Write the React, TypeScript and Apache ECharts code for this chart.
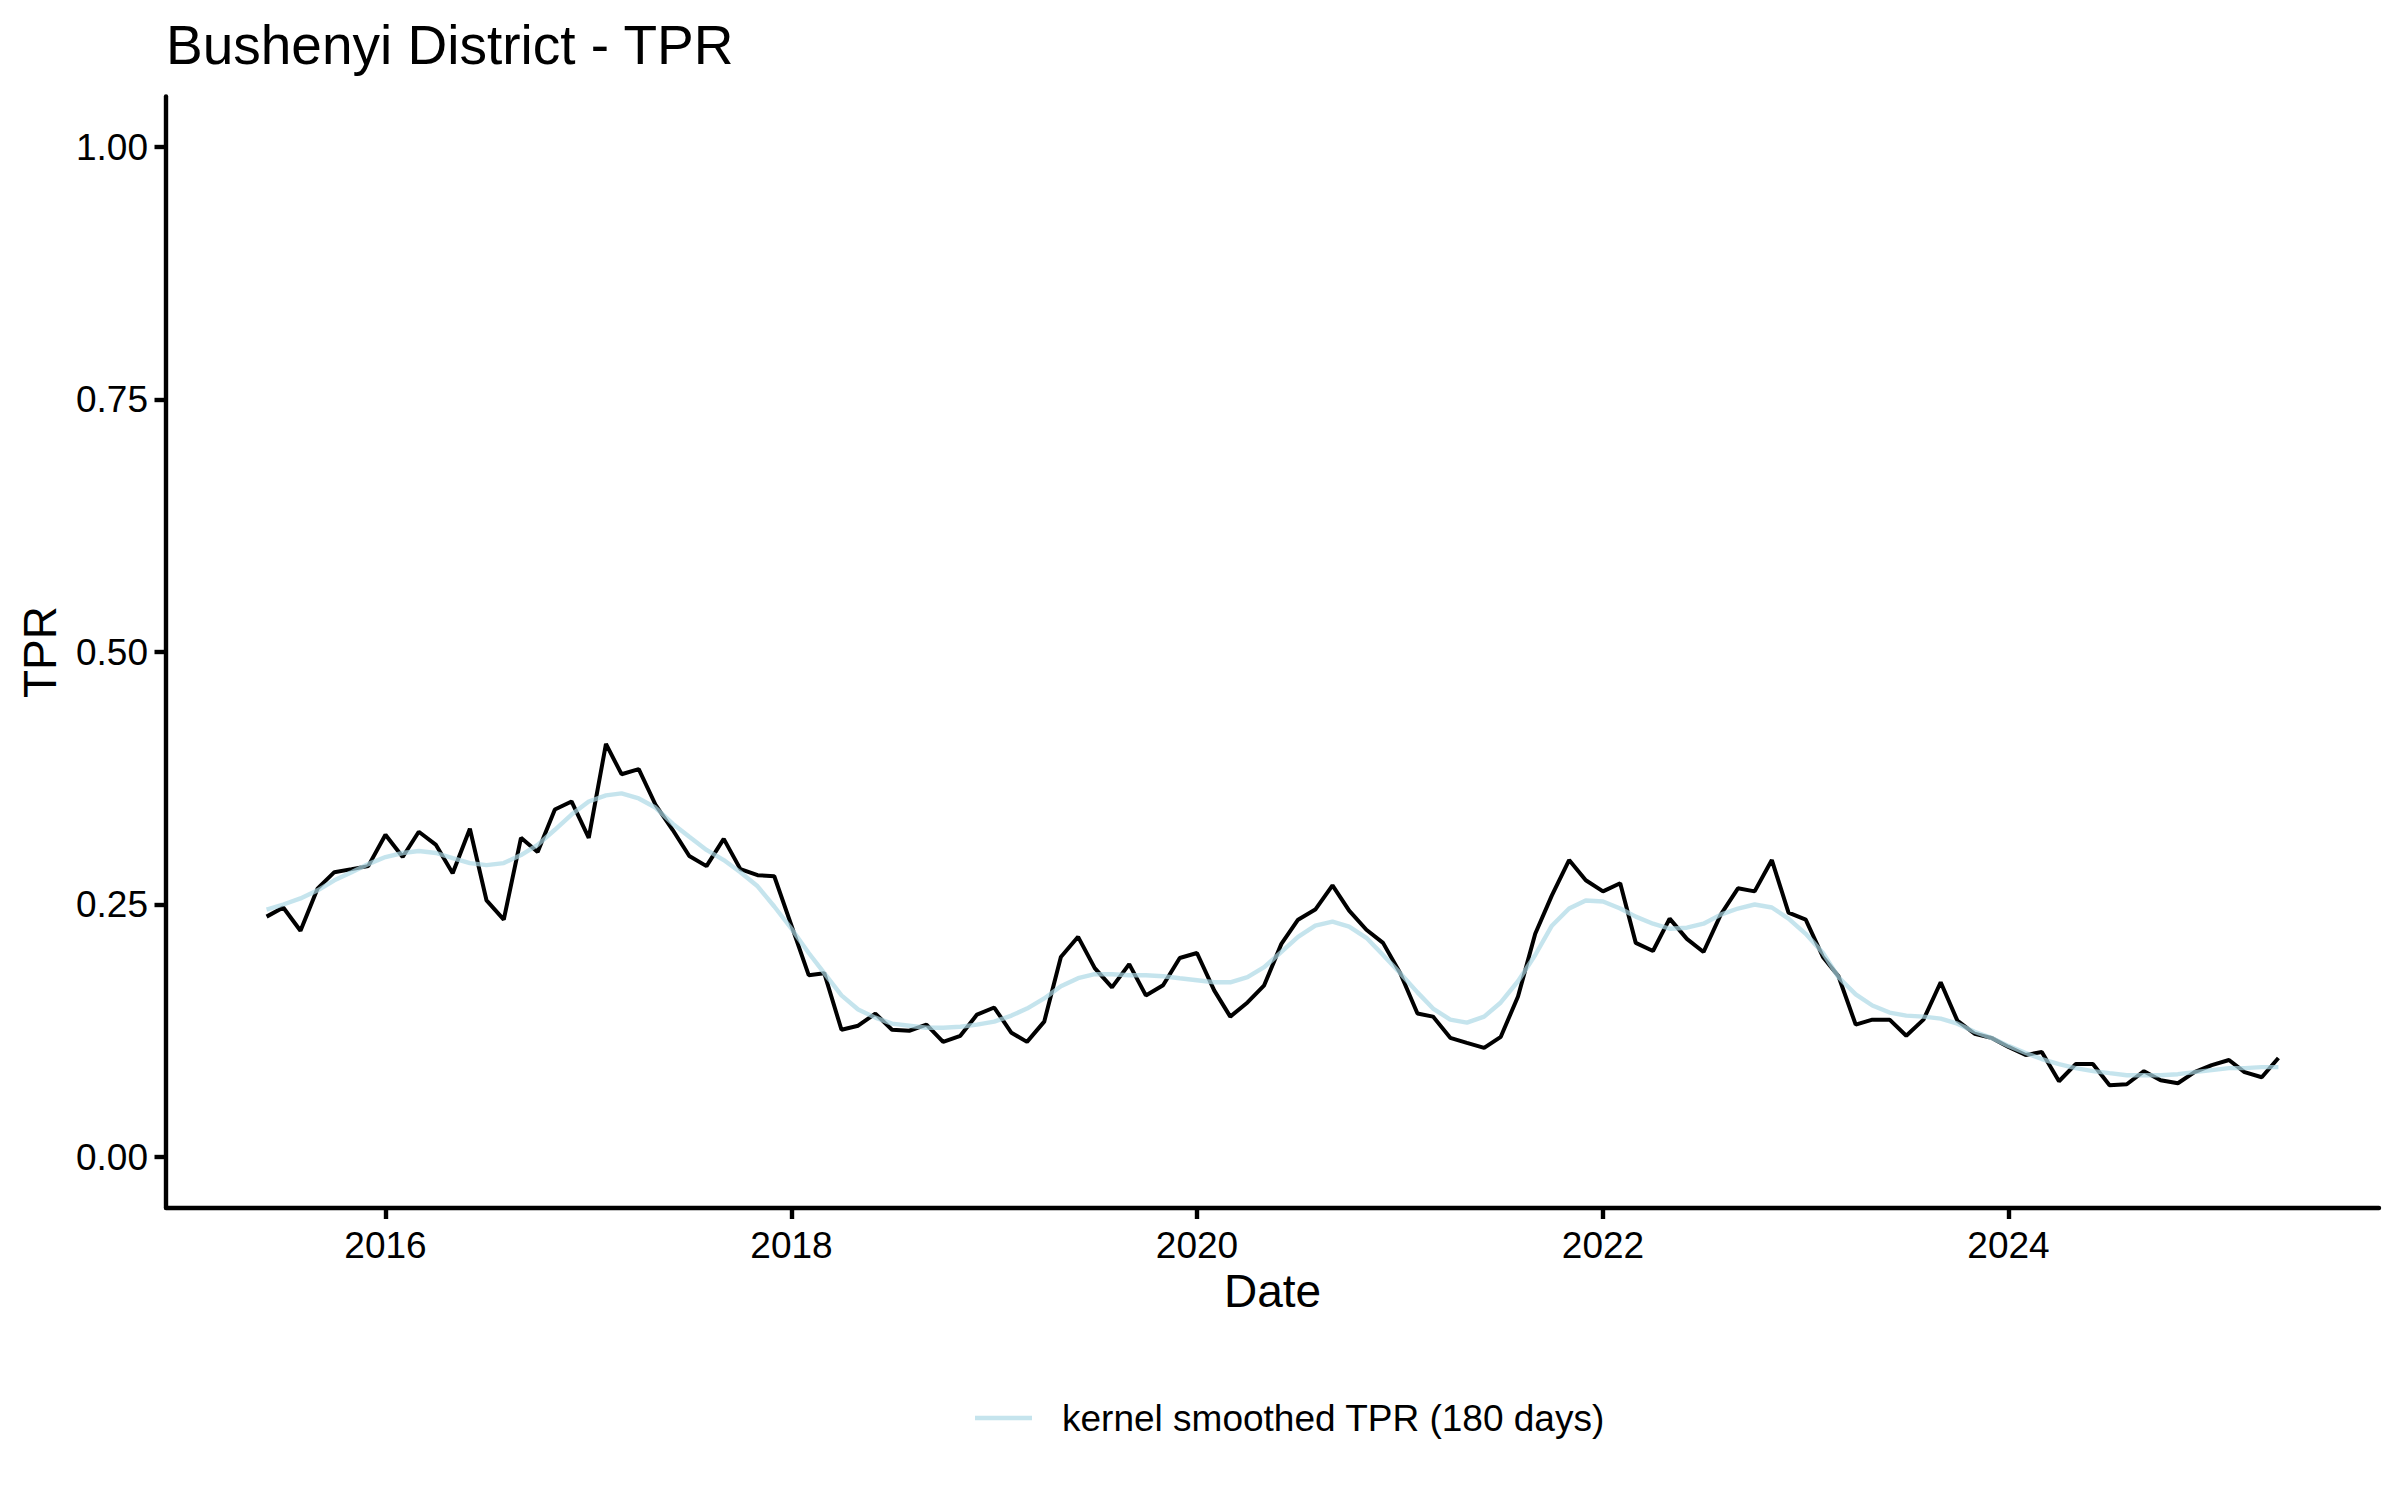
import React, { useEffect, useRef } from "react";
import * as echarts from "echarts";

// Months (first of each month), June 2015 – May 2025
const MONTHS: string[] = [
  "2015-06", "2015-07", "2015-08", "2015-09", "2015-10", "2015-11", "2015-12",
  "2016-01", "2016-02", "2016-03", "2016-04", "2016-05", "2016-06", "2016-07", "2016-08", "2016-09", "2016-10", "2016-11", "2016-12",
  "2017-01", "2017-02", "2017-03", "2017-04", "2017-05", "2017-06", "2017-07", "2017-08", "2017-09", "2017-10", "2017-11", "2017-12",
  "2018-01", "2018-02", "2018-03", "2018-04", "2018-05", "2018-06", "2018-07", "2018-08", "2018-09", "2018-10", "2018-11", "2018-12",
  "2019-01", "2019-02", "2019-03", "2019-04", "2019-05", "2019-06", "2019-07", "2019-08", "2019-09", "2019-10", "2019-11", "2019-12",
  "2020-01", "2020-02", "2020-03", "2020-04", "2020-05", "2020-06", "2020-07", "2020-08", "2020-09", "2020-10", "2020-11", "2020-12",
  "2021-01", "2021-02", "2021-03", "2021-04", "2021-05", "2021-06", "2021-07", "2021-08", "2021-09", "2021-10", "2021-11", "2021-12",
  "2022-01", "2022-02", "2022-03", "2022-04", "2022-05", "2022-06", "2022-07", "2022-08", "2022-09", "2022-10", "2022-11", "2022-12",
  "2023-01", "2023-02", "2023-03", "2023-04", "2023-05", "2023-06", "2023-07", "2023-08", "2023-09", "2023-10", "2023-11", "2023-12",
  "2024-01", "2024-02", "2024-03", "2024-04", "2024-05", "2024-06", "2024-07", "2024-08", "2024-09", "2024-10", "2024-11", "2024-12",
  "2025-01", "2025-02", "2025-03", "2025-04", "2025-05",
];

// Monthly TPR (black line)
const TPR: number[] = [
  0.238, 0.247, 0.224, 0.266, 0.282, 0.285, 0.288,
  0.319, 0.297, 0.322, 0.309, 0.281, 0.325, 0.254, 0.235, 0.316, 0.302, 0.344, 0.352,
  0.316, 0.409, 0.379, 0.384, 0.349, 0.324, 0.298, 0.288, 0.315, 0.285, 0.279, 0.278,
  0.229, 0.180, 0.182, 0.126, 0.130, 0.142, 0.126, 0.125, 0.131, 0.114, 0.120, 0.141,
  0.148, 0.123, 0.114, 0.134, 0.198, 0.218, 0.187, 0.168, 0.191, 0.160, 0.170, 0.197,
  0.202, 0.165, 0.139, 0.153, 0.170, 0.211, 0.235, 0.245, 0.269, 0.244, 0.225, 0.212,
  0.182, 0.142, 0.139, 0.118, 0.113, 0.108, 0.119, 0.159, 0.221, 0.259, 0.294, 0.274,
  0.263, 0.271, 0.212, 0.204, 0.236, 0.216, 0.203, 0.240, 0.266, 0.263, 0.294, 0.242,
  0.235, 0.198, 0.179, 0.131, 0.136, 0.136, 0.120, 0.136, 0.173, 0.135, 0.122, 0.118,
  0.109, 0.101, 0.104, 0.075, 0.092, 0.092, 0.071, 0.072, 0.085, 0.076, 0.073, 0.084,
  0.091, 0.096, 0.084, 0.079, 0.098,
];

// Kernel smoothed TPR (180 days) (light blue line)
const SMOOTH: number[] = [
  0.245, 0.250, 0.256, 0.264, 0.274, 0.282, 0.290,
  0.297, 0.301, 0.303, 0.301, 0.296, 0.291, 0.289, 0.291, 0.299, 0.309, 0.324, 0.339,
  0.352, 0.358, 0.360, 0.355, 0.346, 0.330, 0.317, 0.304, 0.294, 0.282, 0.268, 0.248,
  0.226, 0.202, 0.182, 0.160, 0.146, 0.138, 0.132, 0.130, 0.128, 0.128, 0.129, 0.131,
  0.134, 0.140, 0.147, 0.157, 0.169, 0.177, 0.181, 0.181, 0.180, 0.180, 0.179, 0.177,
  0.175, 0.173, 0.173, 0.178, 0.188, 0.203, 0.218, 0.229, 0.233, 0.228, 0.217, 0.200,
  0.182, 0.163, 0.147, 0.136, 0.133, 0.139, 0.153, 0.174, 0.200, 0.229, 0.246, 0.254,
  0.253, 0.246, 0.238, 0.231, 0.226, 0.227, 0.231, 0.240, 0.246, 0.250, 0.247, 0.236,
  0.221, 0.202, 0.178, 0.161, 0.150, 0.143, 0.140, 0.139, 0.137, 0.132, 0.124, 0.118,
  0.110, 0.103, 0.097, 0.092, 0.088, 0.085, 0.083, 0.081, 0.081, 0.081, 0.082, 0.084,
  0.086, 0.088, 0.088, 0.089, 0.089,
];

const X_TICK_YEARS: number[] = [2016, 2018, 2020, 2022, 2024];
const Y_TICKS: number[] = [0, 0.25, 0.5, 0.75, 1.0];

const TITLE = "Bushenyi District - TPR";
const SMOOTH_NAME = "kernel smoothed TPR (180 days)";
const FONT = "'Liberation Sans', Arial, Helvetica, sans-serif";

function monthToTs(m: string): number {
  const [y, mo] = m.split("-").map(Number);
  return Date.UTC(y, mo - 1, 1);
}

export default function App() {
  const ref = useRef<HTMLDivElement>(null);

  useEffect(() => {
    if (!ref.current) return;
    const chart = echarts.init(ref.current, null, { renderer: "svg" });

    const ts = MONTHS.map(monthToTs);
    const tprData = ts.map((t, i) => [t, TPR[i]]);
    const smoothData = ts.map((t, i) => [t, SMOOTH[i]]);
    const xTicks = X_TICK_YEARS.map((y) => Date.UTC(y, 0, 1));

    const span = ts[ts.length - 1] - ts[0];
    const xMin = ts[0] - span * 0.05;
    const xMax = ts[ts.length - 1] + span * 0.05;

    const option: any = {
      animation: false,
      backgroundColor: "#ffffff",
      textStyle: { fontFamily: FONT },
      title: {
        text: TITLE,
        left: 166,
        top: 17,
        padding: 0,
        textStyle: { fontFamily: FONT, fontSize: 55, fontWeight: "normal", color: "#000" },
      },
      grid: { left: 166, right: 21, top: 96.5, bottom: 292.5, containLabel: false },
      legend: {
        show: true,
        data: [{ name: SMOOTH_NAME, icon: "rect" }],
        left: 975,
        top: 1398,
        padding: 0,
        itemWidth: 57,
        itemHeight: 4.4,
        textStyle: {
          fontFamily: FONT,
          fontSize: 37,
          color: "#000",
          padding: [0, 0, 0, 25],
          lineHeight: 40,
        },
      },
      xAxis: {
        type: "value",
        min: xMin,
        max: xMax,
        splitLine: { show: false },
        axisLine: { show: true, onZero: false, lineStyle: { color: "#000", width: 4.4 } },
        axisTick: {
          show: true,
          length: 11.5,
          customValues: xTicks,
          lineStyle: { color: "#000", width: 4.4 },
        },
        axisLabel: {
          customValues: xTicks,
          formatter: (v: number) => String(new Date(v).getUTCFullYear()),
          fontFamily: FONT,
          fontSize: 37,
          color: "#000",
          margin: 19,
        },
        name: "Date",
        nameLocation: "middle",
        nameGap: 59,
        nameTextStyle: { fontFamily: FONT, fontSize: 46, color: "#000" },
      },
      yAxis: {
        type: "value",
        min: -0.05,
        max: 1.05,
        splitLine: { show: false },
        axisLine: { show: true, onZero: false, lineStyle: { color: "#000", width: 4.4 } },
        axisTick: {
          show: true,
          length: 11.5,
          customValues: Y_TICKS,
          lineStyle: { color: "#000", width: 4.4 },
        },
        axisLabel: {
          customValues: Y_TICKS,
          formatter: (v: number) => v.toFixed(2),
          fontFamily: FONT,
          fontSize: 37,
          color: "#000",
          margin: 18,
        },
        name: "TPR",
        nameLocation: "middle",
        nameGap: 103,
        nameRotate: 90,
        nameTextStyle: { fontFamily: FONT, fontSize: 46, color: "#000" },
      },
      series: [
        {
          name: "TPR",
          type: "line",
          data: tprData,
          showSymbol: false,
          symbol: "none",
          lineStyle: { color: "#000000", width: 4 },
          itemStyle: { color: "#000000" },
          z: 2,
        },
        {
          name: SMOOTH_NAME,
          type: "line",
          data: smoothData,
          showSymbol: false,
          symbol: "none",
          lineStyle: { color: "rgba(173,216,230,0.7)", width: 4.4 },
          itemStyle: { color: "rgba(173,216,230,0.7)" },
          z: 3,
        },
      ],
    };

    chart.setOption(option);
    return () => chart.dispose();
  }, []);

  return (
    <div
      ref={ref}
      style={{ position: "absolute", left: 0, top: 0, width: 2400, height: 1500, background: "#fff" }}
    />
  );
}
